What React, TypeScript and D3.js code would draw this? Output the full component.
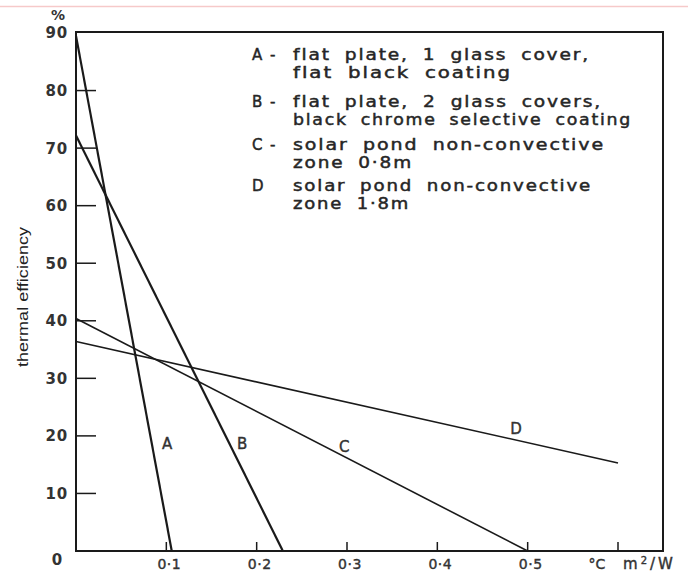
import React from "react";
import * as d3 from "d3";

// Thermal efficiency lines: each runs straight from (x0, y0) to (x1, y1)
const seriesNames = ["A", "B", "C", "D"];
const startX = [0, 0, 0, 0];
const startEff = [89.5, 72.2, 40.4, 36.4];
const endX = [0.106, 0.229, 0.5, 0.6];
const endEff = [0, 0, 0, 15.3];
const lineWidths = [2.2, 2.2, 1.6, 1.6];

// Where each curve letter sits (data coordinates)
const labelX = [0.101, 0.184, 0.297, 0.487];
const labelY = [18.6, 18.6, 18.2, 21.3];

const yTicks = [0, 10, 20, 30, 40, 50, 60, 70, 80, 90];
const xTicks = [0.1, 0.2, 0.3, 0.4, 0.5, 0.6];
const xTickLabels = ["0·1", "0·2", "0·3", "0·4", "0·5", ""];

const legendKeys = ["A", "B", "C", "D"];
const legendDash = ["-", "-", "-", ""];
const legendFirst = [
  "flat plate, 1 glass cover,",
  "flat plate, 2 glass covers,",
  "solar pond non-convective",
  "solar pond non-convective",
];
const legendSecond = [
  "flat black coating",
  "black chrome selective coating",
  "zone 0·8m",
  "zone 1·8m",
];

// legend layout: row centres and spread widths of each text line
const legendRowY = [55, 102, 145, 186];
const legendFirstLen = [297, 309, 312, 299];
const legendSecondLen = [219, 339, 120, 117];

const W = 688;
const H = 575;
const left = 76;
const right = 663;
const top = 32;
const bottom = 551;

const x = d3.scaleLinear().domain([0, 0.6]).range([left, 618]);
const y = d3.scaleLinear().domain([0, 90]).range([bottom, 33]);

const font = "'DejaVu Sans', Verdana, sans-serif";
const ink = "#1a1a1a";
const textInk = "#262626";

export default function App() {
  const line = d3
    .line<[number, number]>()
    .x((d) => x(d[0]))
    .y((d) => y(d[1]));

  return (
    <svg
      width={W}
      height={H}
      style={{ position: "absolute", left: 0, top: 0, background: "#fff" }}
      fontFamily={font}
    >
      <rect x={0} y={0} width={W} height={H} fill="#fff" />
      <line x1={0} x2={W} y1={6.5} y2={6.5} stroke="#f6c9c9" strokeWidth={1.5} />

      {/* frame */}
      <path
        d={`M${left},${top} L${right},${top} L${right},${bottom} L${left},${bottom} Z`}
        fill="none"
        stroke={ink}
        strokeWidth={2}
      />

      {/* y ticks */}
      {yTicks.map((t) => (
        <g key={"y" + t}>
          {t > 0 && t < 90 && (
            <line x1={left} x2={left + 20} y1={y(t)} y2={y(t)} stroke={ink} strokeWidth={1.5} />
          )}
          <text
            x={t === 0 ? 63 : 68}
            y={t === 0 ? 560 : y(t)}
            dy="0.36em"
            textAnchor="end"
            fontSize={15}
            fontWeight="bold"
            fill="#333"
            letterSpacing={0.8}
          >
            {t}
          </text>
        </g>
      ))}
      <text x={58} y={15} dy="0.36em" textAnchor="middle" fontSize={14} fontWeight="bold" fill="#333">
        %
      </text>
      <text
        transform={`translate(28,297) rotate(-90)`}
        textAnchor="middle"
        fontSize={14}
        fill="#222"
        fontFamily="'Liberation Sans', Arial, sans-serif"
        textLength={140}
        lengthAdjust="spacingAndGlyphs"
      >
        thermal efficiency
      </text>

      {/* x ticks */}
      {xTicks.map((t, i) => (
        <g key={"x" + t}>
          <line x1={x(t)} x2={x(t)} y1={bottom} y2={bottom - 9} stroke={ink} strokeWidth={1.5} />
          <text
            x={x(t) + 3}
            y={564}
            dy="0.36em"
            textAnchor="middle"
            fontSize={14}
            fill="#333"
            stroke="#333"
            strokeWidth={0.4}
            letterSpacing={0.5}
          >
            {xTickLabels[i]}
          </text>
        </g>
      ))}
      <text x={597} y={564} dy="0.36em" textAnchor="middle" fontSize={14} fill="#333" stroke="#333" strokeWidth={0.4}>
        °C
      </text>
      <text x={623} y={564} dy="0.36em" fontSize={15} fill="#333" stroke="#333" strokeWidth={0.4} letterSpacing={3}>
        m<tspan dy="-5" fontSize={10}>2</tspan>
        <tspan dy="5">/W</tspan>
      </text>

      {/* efficiency lines */}
      {seriesNames.map((s, i) => (
        <path
          key={s}
          d={line([
            [startX[i], startEff[i]],
            [endX[i], endEff[i]],
          ]) as string}
          fill="none"
          stroke={ink}
          strokeWidth={lineWidths[i]}
        />
      ))}
      {seriesNames.map((s, i) => (
        <text
          key={"l" + s}
          x={x(labelX[i])}
          y={y(labelY[i])}
          dy="0.36em"
          textAnchor="middle"
          fontSize={15}
          fill="#333"
          stroke="#333"
          strokeWidth={0.4}
        >
          {s}
        </text>
      ))}

      {/* legend */}
      {legendKeys.map((k, i) => {
        const y0 = legendRowY[i];
        return (
          <g key={"lg" + k} fontSize={15} fill={textInk} stroke={textInk} strokeWidth={0.45}>
            <text x={252} y={y0} dy="0.36em">
              {k}
            </text>
            {legendDash[i] && (
              <text x={270} y={y0} dy="0.36em">
                {legendDash[i]}
              </text>
            )}
            <text
              x={293}
              y={y0}
              dy="0.36em"
              letterSpacing={1.5}
              wordSpacing={5}
              textLength={legendFirstLen[i]}
              lengthAdjust="spacingAndGlyphs"
            >
              {legendFirst[i]}
            </text>
            <text
              x={293}
              y={y0 + 17.5}
              dy="0.36em"
              letterSpacing={1.5}
              wordSpacing={5}
              textLength={legendSecondLen[i]}
              lengthAdjust="spacingAndGlyphs"
            >
              {legendSecond[i]}
            </text>
          </g>
        );
      })}
    </svg>
  );
}
